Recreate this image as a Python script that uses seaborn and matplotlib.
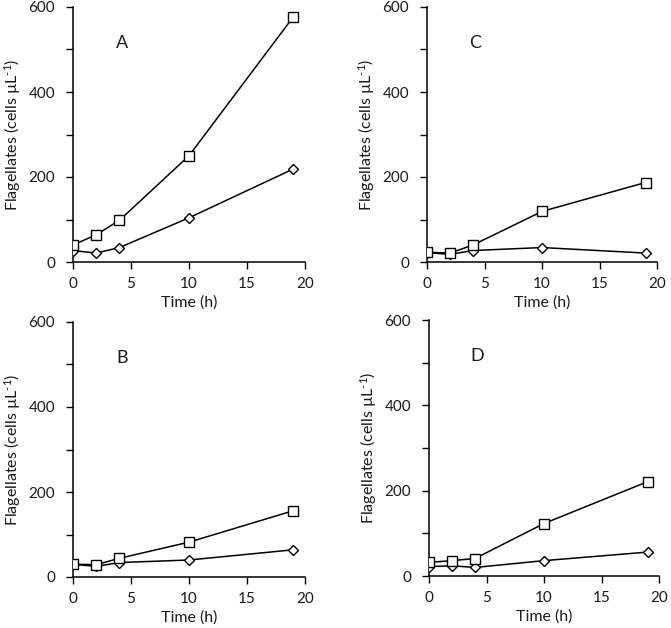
"""Flagellate abundance over time, four incubation panels (A-D)."""

import matplotlib.pyplot as plt
import pandas as pd
import seaborn as sns

sns.set_theme(style="ticks")
plt.rcParams["font.family"] = ["Lato", "DejaVu Sans"]
plt.rcParams["mathtext.default"] = "regular"

time_h = [0, 2, 4, 10, 19]

# squares (upper series) and diamonds (lower series), per panel
a_square = [40, 64, 98, 250, 577]
a_diamond = [27, 21, 34, 104, 219]
b_square = [30, 29, 44, 82, 156]
b_diamond = [30, 25, 34, 40, 64]
c_square = [23, 21, 40, 119, 187]
c_diamond = [22, 18, 27, 34, 21]
d_square = [32, 36, 41, 123, 221]
d_diamond = [22, 24, 20, 36, 56]

panels = {
    "A": (a_square, a_diamond),
    "B": (b_square, b_diamond),
    "C": (c_square, c_diamond),
    "D": (d_square, d_diamond),
}

# axes boxes in pixels (left, top, right, bottom) on a 671x628 canvas
boxes = {
    "A": (73, 7, 305, 262),
    "C": (427, 7, 657, 262),
    "B": (73, 322, 305, 577),
    "D": (429, 320, 659, 576),
}

W, H = 671, 628
fig = plt.figure(figsize=(W / 100, H / 100), dpi=100)

for name, (sq, di) in panels.items():
    l, t, r, b = boxes[name]
    ax = fig.add_axes([l / W, 1 - b / H, (r - l) / W, (b - t) / H])
    df = pd.DataFrame({"time": time_h, "square": sq, "diamond": di})

    sns.lineplot(data=df, x="time", y="diamond", ax=ax, color="black", lw=1.1,
                 marker="D", markersize=5, markerfacecolor="white",
                 markeredgecolor="black", markeredgewidth=1.0, zorder=3)
    sns.lineplot(data=df, x="time", y="square", ax=ax, color="black", lw=1.1,
                 marker="s", markersize=7, markerfacecolor="white",
                 markeredgecolor="black", markeredgewidth=1.0, zorder=4)

    ax.set_xlim(0, 20)
    ax.set_ylim(0, 600)
    ax.set_xticks([0, 5, 10, 15, 20])
    ax.set_yticks([0, 200, 400, 600])
    ax.set_yticks([100, 300, 500], minor=True)
    ax.tick_params(axis="both", which="both", direction="out", length=5,
                   width=1.0, color="black", labelsize=11, labelcolor="#1a1a1a")
    ax.tick_params(axis="x", pad=6)
    ax.tick_params(axis="y", pad=8)
    for side in ("left", "bottom"):
        ax.spines[side].set_linewidth(1.1)
        ax.spines[side].set_color("black")
    sns.despine(ax=ax)
    ax.set_xlabel("Time (h)", fontsize=11.5, labelpad=3, color="#1a1a1a")
    ax.set_ylabel("Flagellates (cells µL$^{\u2010 1}$)", fontsize=11.5,
                  labelpad=4, color="#1a1a1a")
    ax.text(4.2, 515, name, fontsize=13, ha="center", va="center",
            color="#1a1a1a")

fig.savefig("out.png", dpi=100)
plt.close(fig)
